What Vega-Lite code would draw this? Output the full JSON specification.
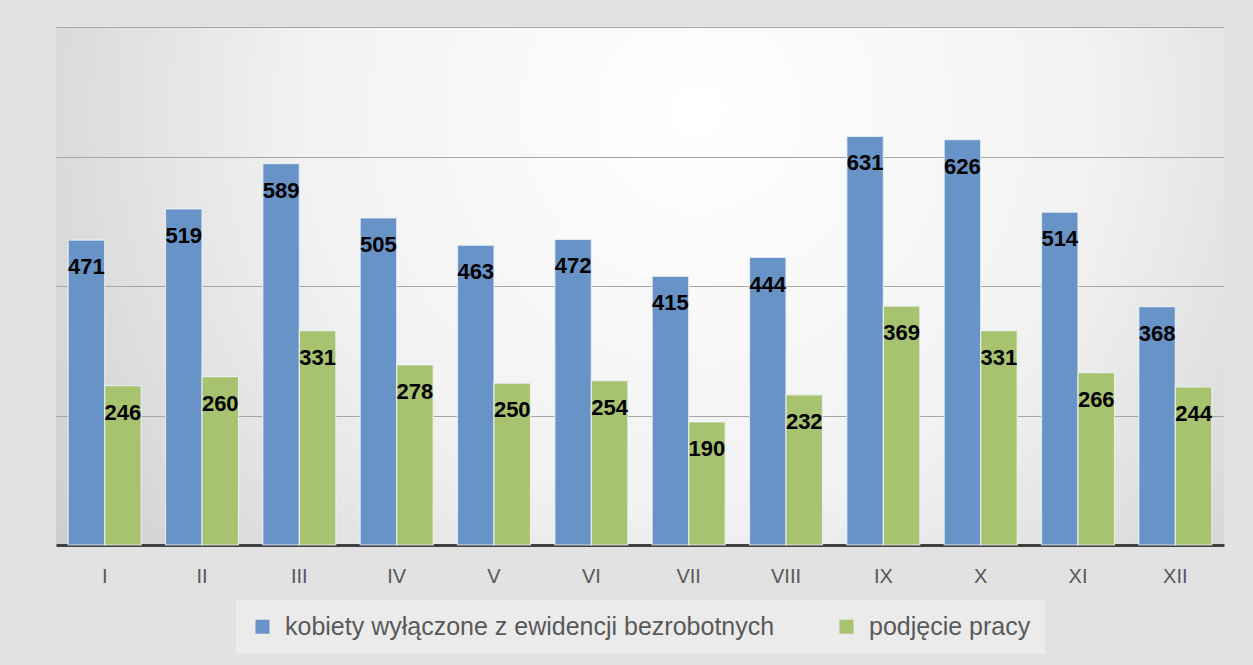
{
  "$schema": "https://vega.github.io/schema/vega-lite/v6.json",
  "width": 1168,
  "height": 518,
  "autosize": {"type": "none"},
  "padding": {"left": 56, "top": 27, "right": 29, "bottom": 120},
  "background": "#e2e2e2",
  "config": {
    "view": {
      "stroke": null,
      "fill": {
        "gradient": "radial",
        "x1": 0.55, "y1": 0.35, "r1": 0,
        "x2": 0.55, "y2": 0.35, "r2": 0.75,
        "stops": [
          {"offset": 0, "color": "#ffffff"},
          {"offset": 0.45, "color": "#f2f2f2"},
          {"offset": 1, "color": "#c4c4c4"}
        ]
      }
    },
    "font": "Liberation Sans",
    "legend": {"layout": {"bottom": {"anchor": "middle"}}}
  },
  "data": {
    "values": [
      {"month": "I", "series": "kobiety  wyłączone z ewidencji bezrobotnych", "value": 471},
      {"month": "I", "series": "podjęcie pracy", "value": 246},
      {"month": "II", "series": "kobiety  wyłączone z ewidencji bezrobotnych", "value": 519},
      {"month": "II", "series": "podjęcie pracy", "value": 260},
      {"month": "III", "series": "kobiety  wyłączone z ewidencji bezrobotnych", "value": 589},
      {"month": "III", "series": "podjęcie pracy", "value": 331},
      {"month": "IV", "series": "kobiety  wyłączone z ewidencji bezrobotnych", "value": 505},
      {"month": "IV", "series": "podjęcie pracy", "value": 278},
      {"month": "V", "series": "kobiety  wyłączone z ewidencji bezrobotnych", "value": 463},
      {"month": "V", "series": "podjęcie pracy", "value": 250},
      {"month": "VI", "series": "kobiety  wyłączone z ewidencji bezrobotnych", "value": 472},
      {"month": "VI", "series": "podjęcie pracy", "value": 254},
      {"month": "VII", "series": "kobiety  wyłączone z ewidencji bezrobotnych", "value": 415},
      {"month": "VII", "series": "podjęcie pracy", "value": 190},
      {"month": "VIII", "series": "kobiety  wyłączone z ewidencji bezrobotnych", "value": 444},
      {"month": "VIII", "series": "podjęcie pracy", "value": 232},
      {"month": "IX", "series": "kobiety  wyłączone z ewidencji bezrobotnych", "value": 631},
      {"month": "IX", "series": "podjęcie pracy", "value": 369},
      {"month": "X", "series": "kobiety  wyłączone z ewidencji bezrobotnych", "value": 626},
      {"month": "X", "series": "podjęcie pracy", "value": 331},
      {"month": "XI", "series": "kobiety  wyłączone z ewidencji bezrobotnych", "value": 514},
      {"month": "XI", "series": "podjęcie pracy", "value": 266},
      {"month": "XII", "series": "kobiety  wyłączone z ewidencji bezrobotnych", "value": 368},
      {"month": "XII", "series": "podjęcie pracy", "value": 244}
    ]
  },
  "encoding": {
    "x": {
      "field": "month", "type": "nominal", "sort": null,
      "scale": {"paddingInner": 0.25, "paddingOuter": 0.125},
      "axis": {
        "title": null, "labelAngle": 0, "ticks": false,
        "domainColor": "#404040", "domainWidth": 3,
        "labelFontSize": 20, "labelColor": "#595959", "labelPadding": 21,
        "labelFont": "Liberation Sans"
      }
    },
    "xOffset": {"field": "series", "type": "nominal", "sort": null},
    "y": {
      "field": "value", "type": "quantitative",
      "scale": {"domain": [0, 800], "nice": false},
      "axis": {
        "title": null, "labels": false, "ticks": false, "domain": false,
        "values": [200, 400, 600, 800], "gridColor": "#a6a6a6", "gridWidth": 1
      }
    }
  },
  "layer": [
    {
      "mark": {"type": "bar", "stroke": "#eef3f8", "strokeWidth": 1.2, "strokeOpacity": 0.8},
      "encoding": {
        "color": {
          "field": "series", "type": "nominal",
          "scale": {
            "domain": ["kobiety  wyłączone z ewidencji bezrobotnych", "podjęcie pracy"],
            "range": ["#6893c7", "#a8c370"]
          },
          "legend": {
            "title": null, "orient": "bottom", "direction": "horizontal",
            "labelFontSize": 25, "labelColor": "#595959", "labelLimit": 700,
            "symbolType": "square", "symbolSize": 196, "symbolStrokeWidth": 0,
            "fillColor": "#ebebeb", "padding": 14, "offset": 14,
            "columnPadding": 52, "labelOffset": 10
          }
        }
      }
    },
    {
      "mark": {"type": "text", "fontWeight": "bold", "fontSize": 22, "color": "#000000", "baseline": "middle", "dy": 27},
      "encoding": {"text": {"field": "value", "type": "quantitative"}}
    }
  ]
}
